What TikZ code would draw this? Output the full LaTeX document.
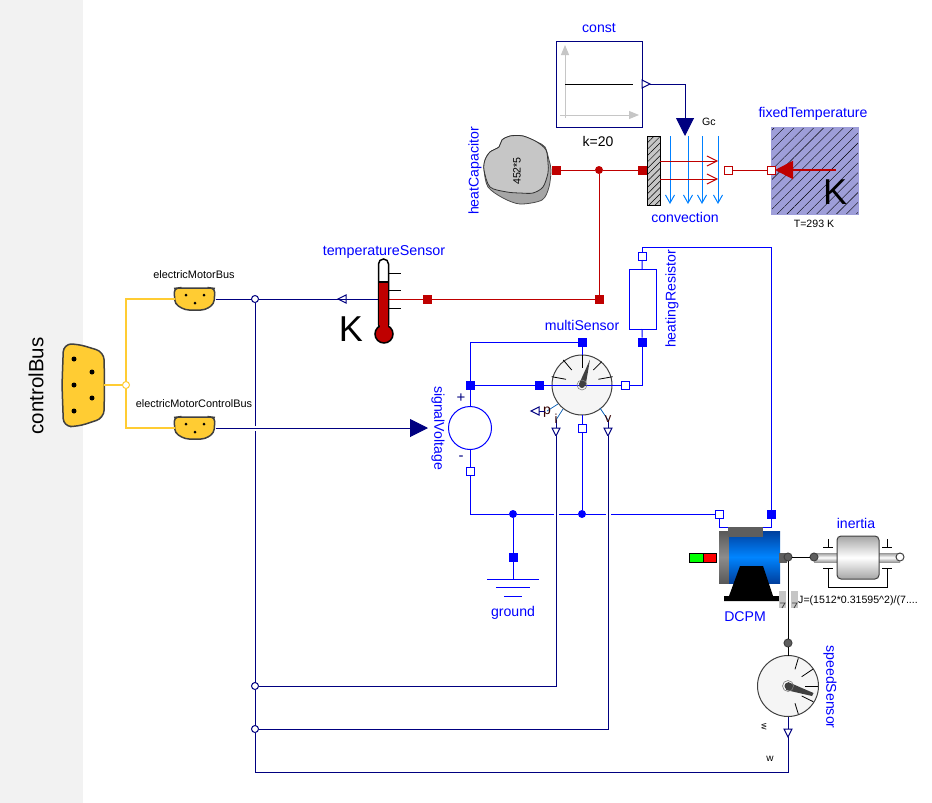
\documentclass[tikz,border=0pt]{standalone}
\usepackage{fontspec}
\setmainfont{Liberation Sans}
\usetikzlibrary{arrows.meta,calc,patterns.meta}
\definecolor{WireBlue}{rgb}{0,0,1}
\definecolor{WireNavy}{rgb}{0,0,0.5}
\definecolor{WireRed}{rgb}{0.75,0,0}
\definecolor{BusClr}{rgb}{1,0.8,0.2}
\definecolor{FlowClr}{rgb}{0,0.5,1}
\definecolor{DialClr}{gray}{0.96}
\definecolor{EdgeClr}{gray}{0.25}
\definecolor{PortGray}{gray}{0.37}
\definecolor{HatchClr}{rgb}{0.62,0.62,0.85}
\definecolor{MotorDark}{rgb}{0,0.25,0.62}
\definecolor{MotorLight}{rgb}{0,0.52,1}
\tikzset{
  every node/.style={outer sep=0pt},
  lbl/.style={text=WireBlue,inner sep=0pt,font=\fontsize{14.1}{16}\selectfont},
  val/.style={text=black,inner sep=0pt,font=\fontsize{10.6}{12}\selectfont},
  sqfill/.style={draw=none,fill=#1,minimum size=9pt,inner sep=0pt},
  sqopen/.style={draw=#1,fill=white,minimum size=8pt,inner sep=0pt},
  jct/.style={circle,draw=none,fill=#1,minimum size=8pt,inner sep=0pt},
  jctopen/.style={circle,draw=#1,fill=white,minimum size=7pt,inner sep=0pt},
  flange/.style={circle,draw=EdgeClr,fill=#1,minimum size=8pt,inner sep=0pt},
  dial/.style={circle,draw=EdgeClr,fill=DialClr,minimum size=60pt,inner sep=0pt},
  jump/.style={preaction={draw=white,line width=5pt}},
  bigtip/.style={-{Triangle[length=18pt,width=18pt]}},
  outarrow/.pic={\draw[fill=white] (0,-4) -- (8,0) -- (0,4) -- cycle;}
}

\begin{document}
\begin{tikzpicture}[x=1pt,y=-1pt,line width=1pt]
\useasboundingbox (0,0) rectangle (932,803);
\fill[gray!10] (0,0) rectangle (83,803);

% buses
\node[rotate=90,inner sep=0pt,font=\fontsize{20.5}{22}\selectfont] (busLbl) at (36,386) {controlBus};
\draw[EdgeClr,fill=BusClr,line width=1.5pt,rounded corners=8pt] (62,385) -- (63.5,344) -- (78,344) -- (104,352) -- (104.5,385) -- (104,418) -- (78,426.5) -- (63.5,426.5) -- cycle;
\node[inner sep=0pt,minimum width=42pt,minimum height=82pt] (ctrlBus) at (83,385) {};
\foreach \dx/\dy in {74/359,92/372,74/385,92/398,74/411} \fill (\dx,\dy) circle (2.5);
\foreach \by/\bn/\bt in {299/motBus/electricMotorBus,428/ctlBus/electricMotorControlBus} {
  \draw[EdgeClr,fill=BusClr,line width=1.5pt,rounded corners=4pt] (174,\by-10.5) -- (178,\by-11) -- (211,\by-11) -- (215,\by-10.5) -- (214,\by+5) -- (205,\by+11) -- (185,\by+11) -- (175,\by+5) -- cycle;
  \node[inner sep=0pt,minimum width=41pt,minimum height=22pt] (\bn) at (195,\by) {};
  \fill (186,\by-4) circle (1.5) (204,\by-4) circle (1.5) (195,\by+4) circle (1.5);
  \node[val,font=\fontsize{10.9}{12}\selectfont] at (194,\by-24) {\bt};
}
\node[jctopen=BusClr] (jBus) at (126,385) {};
\draw[BusClr,line width=2pt] (ctrlBus.east) -- (jBus);
\draw[BusClr,line width=2pt] (jBus) |- (motBus.west);
\draw[BusClr,line width=2pt] (jBus) |- (ctlBus.west);

% thermal part
\draw[black!70,line width=.8pt,fill=gray!70!white] plot[smooth cycle,tension=.5] coordinates {(485,160) (490,152) (499,147) (502,140) (510,136) (523,136) (537,142) (545,147) (549,160) (551,170) (549,187) (542,200) (520,204) (503,198) (488,187) (484,170)};
\draw[black!80,line width=.8pt,fill=gray!45!white] plot[smooth cycle,tension=.5] coordinates {(485,160) (490,152) (499,147) (502,140) (510,136) (523,136) (537,142) (546,150) (548,163) (548,173) (543,187) (533,193) (520,193) (507,192) (490,187) (484,170)};
\node[val,rotate=90] (capVal) at (517,171) {452*5};
\node[lbl,rotate=90] (capLbl) at (475,171) {heatCapacitor};
\node[sqfill=WireRed] (capPort) at (556,170) {};
\node[jct=WireRed] (jHeat) at (599,170) {};
\node[sqfill=WireRed] (convIn) at (642,170) {};
\node[sqopen=WireRed] (convOut) at (728,170) {};
\node[sqfill=WireRed] (jSens) at (599,299) {};
\node[sqfill=WireRed] (tsPort) at (427,299) {};
\draw[WireRed] (capPort) -- (jHeat);
\draw[WireRed] (jHeat) -- (convIn);
\draw[WireRed] (jHeat) -- (jSens);
\draw[WireRed] (jSens) -- (tsPort);

\node[draw=black,preaction={fill=gray!45!white},pattern={Lines[angle=45,distance=4.5pt,line width=.5pt]},minimum width=13pt,minimum height=69pt,inner sep=0pt] (wall) at (653.5,170.5) {};
\foreach \fx in {670,688,702,718}
  \draw[FlowClr,-{Straight Barb[length=8pt,width=9pt]}] (\fx,136) -- (\fx,204);
\foreach \fy in {161,179}
  \draw[WireRed,-{Straight Barb[length=10pt,width=10pt]}] (wall.east|-0,\fy) -- (718,\fy);
\node[lbl] (convLbl) at (685,217) {convection};
\node[val] (gcLbl) at (709,122) {Gc};

\node[draw=HatchClr,preaction={fill=HatchClr},pattern={Lines[angle=45,distance=7pt,line width=.4pt]},minimum width=87pt,minimum height=87pt,inner sep=0pt] (fixT) at (814.5,170.5) {};
\node[sqopen=WireRed] (ftPort) at (771,170) {};
\draw[WireRed] (convOut) -- (ftPort);
\coordinate (ftTail) at (836,170);
\draw[WireRed,line width=2pt,bigtip] (ftTail) -- (ftPort);
\node[inner sep=0pt,font=\fontsize{36}{38}\selectfont] (ftK) at (835,192) {K};
\node[lbl] (ftLbl) at (813,114) {fixedTemperature};
\node[val] (ftVal) at (814,224) {T=293 K};

\node[draw=WireNavy,fill=white,minimum size=86pt,inner sep=0pt] (const) at (599,84) {};
\draw[gray!45!white,-{Triangle[length=10pt,width=8pt]}] (565,118) -- (565,45);
\draw[gray!45!white,-{Triangle[length=10pt,width=8pt]}] (560,115) -- (639,115);
\draw[black] (565,84) -- (633,84);
\node[lbl] (constLbl) at (599,28) {const};
\node[val,font=\fontsize{14}{16}\selectfont] (constVal) at (598,141) {k=20};
\pic[color=WireNavy] at (const.east) {outarrow};
\coordinate (constOut) at (650,84);
\coordinate (convG) at (685,136);
\draw[WireNavy,bigtip] (constOut) -| (convG);

% temperature sensor
\coordinate (tsOut) at (346,299);
\draw[WireNavy] (378,299) -- (tsOut);
\draw[WireRed] (389,299) -- (tsPort);
\foreach \ty in {273,290,308} \draw (389,\ty) -- (401,\ty);
\draw[black,line width=1.5pt,fill=white] (378.5,325) -- (378.5,264) arc (180:360:5) -- (388.5,325);
\fill[WireRed] (379,282) rectangle (388,330);
\draw[black,line width=1.5pt] (378.5,282) -- (388.5,282) (378.5,282) -- (378.5,327) (388.5,282) -- (388.5,327);
\node[circle,draw=black,line width=1.5pt,fill=WireRed,minimum size=18pt,inner sep=0pt] (tsBulb) at (384,334) {};
\fill[WireRed] (379.5,322) rectangle (387.5,330);
\node[lbl,font=\fontsize{14.3}{16}\selectfont] (tsLbl) at (384,252) {temperatureSensor};
\node[inner sep=0pt,font=\fontsize{36}{38}\selectfont] (tsK) at (351,329) {K};
\pic[color=WireNavy,rotate=180] at (tsOut) {outarrow};

% electrical part
\node[sqopen=WireBlue] (resP) at (642,256) {};
\node[draw=WireBlue,fill=white,minimum width=27pt,minimum height=60pt,inner sep=0pt] (res) at (642.5,299) {};
\node[sqfill=WireBlue] (resN) at (642,342) {};
\node[lbl,rotate=90] (resLbl) at (672,299) {heatingResistor};
\node[sqfill=WireBlue] (motN) at (771,514) {};
\node[sqopen=WireBlue] (motP) at (719,514) {};
\coordinate (resTop) at (642,247);
\draw[WireBlue] (resP) -- (resTop) -| (motN);
\draw[WireBlue] (resP) -- (res);
\draw[WireBlue] (res) -- (resN);

\node[dial] (ms) at (582,385) {};
\node[sqfill=WireBlue] (sigP) at (470,385) {};
\node[sqfill=WireBlue] (msIn) at (539,385) {};
\node[sqfill=WireBlue] (msTop) at (582,342) {};
\node[sqopen=WireBlue] (msOut) at (625,385) {};
\node[sqopen=WireBlue] (msBot) at (582,428) {};
\node[circle,draw=WireBlue,fill=white,minimum size=43pt,inner sep=0pt] (sig) at (470,428) {};
\node[sqopen=WireBlue] (sigN) at (470,471) {};
\node[jct=WireBlue] (jGnd) at (513,514) {};
\node[jct=WireBlue] (jMs) at (582,514) {};
\node[sqfill=WireBlue] (gndPort) at (513,557) {};
\coordinate (gndTop) at (513,579);
\draw[WireBlue] (sigP) -- (msIn);
\draw[WireBlue] (msIn) -- (msOut);
\draw[WireBlue] (sigP) |- (msTop);
\draw[WireBlue] (msTop) -- (ms);
\draw[WireBlue] (resN) |- (msOut);
\draw[WireBlue] (ms) -- (msBot);
\draw[WireBlue] (sigP) -- (sig);
\draw[WireBlue] (sig) -- (sigN);
\draw[WireBlue] (sigN) |- (jGnd);
\draw[WireBlue] (jGnd) -- (jMs);
\draw[WireBlue] (jMs) -- (motP);
\draw[WireBlue] (msBot) -- (jMs);
\draw[WireBlue] (jGnd) -- (gndPort);
\draw[WireBlue] (gndPort) -- (gndTop);
\draw[WireBlue] (motP) |- (745,527) -| (motN);
\draw[WireBlue] (487,579) -- (539,579) (496,587) -- (530,587) (504,596) -- (522,596);
\node[lbl] (gndLbl) at (513,613) {ground};
\node[lbl,rotate=-90] (sigLbl) at (438,428) {signalVoltage};
\node[inner sep=0pt,text=WireNavy,font=\fontsize{15}{16}\selectfont] (sigPlus) at (461,398) {+};
\node[inner sep=0pt,text=WireNavy,font=\fontsize{15}{16}\selectfont] (sigMinus) at (461,458) {-};
\node[lbl] (msLbl) at (582,325) {multiSensor};

% dial of multiSensor
\foreach \xa/\ya/\xb/\yb in {563.3/360/571.7/370,582.3/355/582.3/368.3,601.7/361.7/593.3/370,551.7/376.7/566/379.3,612.7/376.7/598.3/379.3}
  \draw[line width=.8pt] (\xa,\ya) -- (\xb,\yb);
\fill[EdgeClr] (579,384) -- (590,359.5) -- (585.5,386) -- cycle;
\draw[gray,line width=.6pt] (582,385) circle (5);
\fill[EdgeClr] (582,385) circle (3);
\draw[FlowClr!70!black,line width=.7pt] (563,409) -- (556,420) (600,408) -- (608,420) (558,404) -- (547,411);
\draw[WireNavy] (556,420) -- (556,428) (608,420) -- (608,428);
\node[inner sep=0pt,text=black!80!red,font=\fontsize{14}{16}\selectfont] (pLbl) at (547,412) {p};
\node[inner sep=0pt,text=black!80!red,font=\fontsize{13}{16}\selectfont] (iLbl) at (556,419) {i};
\node[inner sep=0pt,text=black!80!red,font=\fontsize{13}{16}\selectfont] (vLbl) at (608,419) {v};
\draw[WireNavy] (539,411) -- (545,411);
\pic[color=WireNavy,rotate=180] at (539,411) {outarrow};
\pic[color=WireNavy,rotate=-90] at (556,428) {outarrow};
\pic[color=WireNavy,rotate=-90] at (608,428) {outarrow};

% motor
\node[draw=none,top color=gray!70!black,bottom color=gray!70!black,middle color=gray!90!white,minimum width=10pt,minimum height=52pt,inner sep=0pt] (motCap) at (724,557) {};
\node[draw=none,top color=MotorDark,bottom color=MotorDark,middle color=MotorLight,minimum width=51pt,minimum height=52pt,inner sep=0pt] (motBody) at (754.5,557) {};
\fill[PortGray] (728,527) rectangle (763,537);
\fill (740,566) -- (763,566) -- (773,596) -- (780,596) -- (780,601) -- (724,601) -- (724,596) -- (729,596) -- cycle;
\draw[black,fill=green] (689,553) rectangle (703,562);
\draw[black,fill=red] (703,553) rectangle (716,562);
\fill[PortGray] (779,553) rectangle (787,563);
\node[lbl] (motLbl) at (745,617) {DCPM};
\node[val] (jVal) at (858,601) {J=(1512*0.31595\textasciicircum 2)/(7....};
\foreach \sx in {779,791} {
  \fill[gray!45!white] (\sx,591) rectangle (\sx+7,608);
  \draw[EdgeClr,line width=.8pt] (\sx+1,603) -- (\sx+6,603) -- (\sx+3,608);
}

% inertia
\node[draw=none,top color=gray!80,bottom color=gray!80,middle color=white,minimum width=86pt,minimum height=9pt,inner sep=0pt] (inShaft) at (857,557.5) {};
\node[draw=EdgeClr,rounded corners=4pt,top color=gray!70,bottom color=gray!70,middle color=white,minimum width=42pt,minimum height=43pt,inner sep=0pt] (inert) at (858,557.5) {};
\node[lbl] (inLbl) at (856,523) {inertia};
\node[flange=PortGray] (motShaft) at (788,557) {};
\node[flange=PortGray] (inA) at (814,557) {};
\node[flange=white] (inB) at (900,557) {};
\draw (motShaft) -- (inA);
\foreach \bx in {828,887} {
  \draw[line width=.8pt] (\bx,539) -- (\bx,547) (\bx-5,547) -- (\bx+5,547) (\bx-5,568) -- (\bx+5,568);
}
\draw[line width=.8pt] (828,568) -- (828,587) -- (887,587) -- (887,568);

% speed sensor
\node[dial,minimum size=61pt] (speed) at (788,686) {};
\node[flange=PortGray] (spPort) at (788,643) {};
\draw (motShaft) -- (spPort);
\draw (spPort) -- (speed);
\foreach \xa/\ya/\xb/\yb in {798.3/658.3/795/669.3,812.7/669.3/801.7/676.7,818.3/686/805/686,813.3/701.7/801.7/696,798.3/714/795/703.3}
  \draw[line width=.8pt] (\xa,\ya) -- (\xb,\yb);
\fill[EdgeClr] (788,682) -- (813.5,693) -- (812,696) -- (786,690) -- cycle;
\draw[gray,line width=.6pt] (788,686) circle (5.5);
\fill[EdgeClr] (788,686) circle (3.5);
\draw[WireNavy] (speed) -- (788,729);
\coordinate (spOut) at (788,737);
\pic[color=WireNavy,rotate=-90] at (788,729) {outarrow};
\node[lbl,rotate=-90] (spLbl) at (830,687) {speedSensor};
\node[val,font=\fontsize{10}{12}\selectfont] (wLbl) at (770,759) {w};
\node[val,rotate=-90,font=\fontsize{9}{12}\selectfont] (wSym) at (764,727) {w};

% signal wires
\node[jctopen=WireNavy] (jA) at (255,299) {};
\node[jctopen=WireNavy] (jB) at (255,686) {};
\node[jctopen=WireNavy] (jC) at (255,729) {};
\coordinate (sigIn) at (428,428);
\coordinate (iOut) at (556,436);
\coordinate (vOut) at (608,436);
\coordinate (spBot) at (255,772);
\draw[WireNavy] (motBus) -- (jA);
\draw[WireNavy] (jA) -- (tsOut);
\draw[WireNavy] (jA) -- (jB);
\draw[WireNavy] (jB) -- (jC);
\draw[WireNavy] (jC) -- (spBot) -| (spOut);
\draw[WireNavy,bigtip,jump] (ctlBus) -- (sigIn);
\draw[WireNavy,jump] (iOut) |- (jB);
\draw[WireNavy,jump] (vOut) |- (jC);
\end{tikzpicture}
\end{document}
